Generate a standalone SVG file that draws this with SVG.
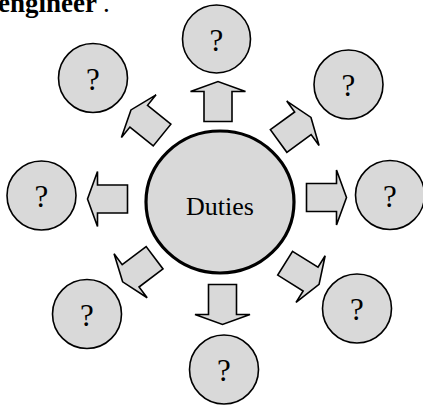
<svg xmlns="http://www.w3.org/2000/svg" width="423" height="405" viewBox="0 0 423 405">
<style>
.c{fill:#d9d9d9;stroke:#000;stroke-width:1.6}
.main{fill:#d9d9d9;stroke:#000;stroke-width:3.2}
.a{fill:#d9d9d9;stroke:#000;stroke-width:1.6;stroke-linejoin:miter}
.q{font-family:'Liberation Serif','Times New Roman',serif;font-size:31px;text-anchor:middle;fill:#000}
.t{font-family:'Liberation Serif','Times New Roman',serif;font-size:26px;text-anchor:middle;fill:#000}
.h{font-family:'Liberation Serif','Times New Roman',serif;font-size:27px;fill:#000}
</style>
<defs>
<path id="arr" d="M-20,-14 L10,-14 L10,-27.5 L20,0 L10,27.5 L10,14 L-20,14 Z"/>
</defs>
<rect width="423" height="405" fill="#fff"/>
<text class="h" x="-2" y="12" font-weight="bold">engineer</text>
<text class="h" x="103" y="12">.</text>
<g id="connectors">
<use href="#arr" class="a" transform="translate(218,101.5) rotate(-90)"/>
<use href="#arr" class="a" transform="translate(222.5,304.5) rotate(90)"/>
<use href="#arr" class="a" transform="translate(326.5,197.5)"/>
<use href="#arr" class="a" transform="translate(107.5,199) rotate(180)"/>
<use href="#arr" class="a" transform="translate(146.5,122.5) rotate(-141)"/>
<use href="#arr" class="a" transform="translate(294.8,129.2) rotate(-36)"/>
<use href="#arr" class="a" transform="translate(138.6,269.8) rotate(143)"/>
<use href="#arr" class="a" transform="translate(302.1,273.8) rotate(32)"/>
</g>
<g id="center"><ellipse class="main" cx="220" cy="202" rx="74" ry="71"/><text class="t" x="220" y="215">Duties</text></g>
<g id="n-top"><circle class="c" cx="216.5" cy="39" r="34"/><text class="q" x="216.5" y="50.5">?</text></g>
<g id="n-topright"><circle class="c" cx="348.5" cy="84.5" r="34.5"/><text class="q" x="348.5" y="96">?</text></g>
<g id="n-right"><circle class="c" cx="390" cy="195" r="34.5"/><text class="q" x="390" y="206.5">?</text></g>
<g id="n-bottomright"><circle class="c" cx="357" cy="308.5" r="34.5"/><text class="q" x="357" y="320">?</text></g>
<g id="n-bottom"><circle class="c" cx="224" cy="369.5" r="34.5"/><text class="q" x="224" y="381">?</text></g>
<g id="n-bottomleft"><circle class="c" cx="87" cy="314" r="34.5"/><text class="q" x="87" y="325.5">?</text></g>
<g id="n-left"><circle class="c" cx="41.5" cy="195.5" r="34.5"/><text class="q" x="41.5" y="207">?</text></g>
<g id="n-topleft"><circle class="c" cx="93" cy="78" r="34.5"/><text class="q" x="93" y="89.5">?</text></g>
</svg>
